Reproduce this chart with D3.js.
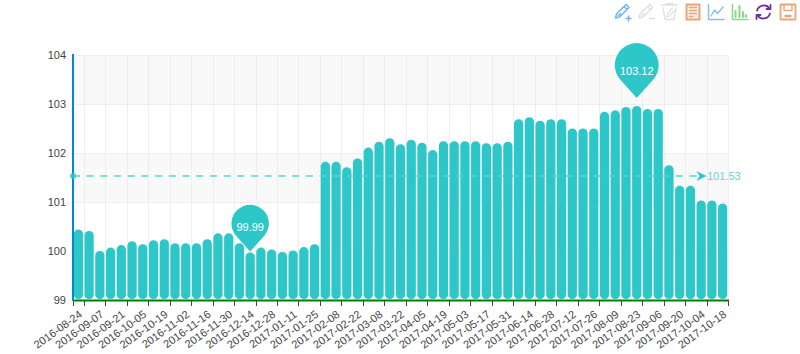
<!DOCTYPE html>
<html><head><meta charset="utf-8">
<style>html,body{margin:0;padding:0;background:#fff}svg{display:block}text{font-family:"Liberation Sans",Arial,sans-serif}</style>
<script src="https://cdn.jsdelivr.net/npm/d3@7"></script></head>
<body><svg id="c" width="800" height="354"></svg>
<script>
const dates=["2016-08-24","2016-08-31","2016-09-07","2016-09-14","2016-09-21","2016-09-28","2016-10-05","2016-10-12","2016-10-19","2016-10-26","2016-11-02","2016-11-09","2016-11-16","2016-11-23","2016-11-30","2016-12-07","2016-12-14","2016-12-21","2016-12-28","2017-01-04","2017-01-11","2017-01-18","2017-01-25","2017-02-01","2017-02-08","2017-02-15","2017-02-22","2017-03-01","2017-03-08","2017-03-15","2017-03-22","2017-03-29","2017-04-05","2017-04-12","2017-04-19","2017-04-26","2017-05-03","2017-05-10","2017-05-17","2017-05-24","2017-05-31","2017-06-07","2017-06-14","2017-06-21","2017-06-28","2017-07-05","2017-07-12","2017-07-19","2017-07-26","2017-08-02","2017-08-09","2017-08-16","2017-08-23","2017-08-30","2017-09-06","2017-09-13","2017-09-20","2017-09-27","2017-10-04","2017-10-11","2017-10-18"];
const values=[100.44,100.41,100.00,100.07,100.12,100.20,100.14,100.22,100.24,100.16,100.16,100.16,100.24,100.36,100.36,100.16,99.97,100.07,100.03,99.98,100.01,100.08,100.14,101.82,101.82,101.71,101.89,102.11,102.23,102.30,102.18,102.27,102.21,102.06,102.24,102.24,102.24,102.24,102.20,102.20,102.23,102.69,102.73,102.66,102.69,102.69,102.50,102.50,102.50,102.84,102.87,102.94,102.96,102.90,102.90,101.75,101.33,101.33,101.03,101.03,100.97];
const yTicks=[99,100,101,102,103,104];
const pins=[{i:52,v:103.12,r:22,d:33,dy:9.5},{i:16,v:99.99,r:18.7,d:28,dy:8}];
const average=101.53;
const teal="#2ec7c9";

const svg=d3.select("#c");
const x=d3.scaleBand().domain(d3.range(dates.length)).range([73,728]).paddingInner(0.14).paddingOuter(0.07);
const y=d3.scaleLinear().domain([99,104]).range([300,55]);
const edge=i=>73+i*(655/dates.length);
const tickIdx=[0];for(let i=1;i<=dates.length;i+=2)tickIdx.push(i);

// split areas
const g=svg.append("g");
[[104,103,"#f9f9f9"],[103,102,"#fff"],[102,101,"#f9f9f9"],[101,100,"#fff"],[100,99,"#f9f9f9"]].forEach(d=>g.append("rect").attr("x",73).attr("width",655).attr("y",y(d[0])).attr("height",y(d[1])-y(d[0])).attr("fill",d[2]));
yTicks.slice(1).forEach(t=>g.append("line").attr("x1",73).attr("x2",728).attr("y1",Math.round(y(t))+.5).attr("y2",Math.round(y(t))+.5).attr("stroke","#eee"));
tickIdx.slice(1).forEach(i=>g.append("line").attr("x1",Math.round(edge(i))+.5).attr("x2",Math.round(edge(i))+.5).attr("y1",55).attr("y2",300).attr("stroke","#eee"));
// bars
svg.append("g").selectAll("rect").data(values).join("rect")
 .attr("x",(d,i)=>x(i)).attr("width",x.bandwidth())
 .attr("y",d=>y(d)).attr("height",d=>y(99)-1-y(d))
 .attr("rx",4.5).attr("ry",4.5).attr("fill",teal);
// axes
const ax=svg.append("g");
ax.append("line").attr("x1",73).attr("x2",729).attr("y1",300.5).attr("y2",300.5).attr("stroke","#008000").attr("stroke-width",2);
ax.append("line").attr("x1",73).attr("x2",73).attr("y1",54).attr("y2",301).attr("stroke","#008acd").attr("stroke-width",2);
tickIdx.forEach(i=>ax.append("line").attr("x1",Math.round(edge(i))+.5).attr("x2",Math.round(edge(i))+.5).attr("y1",301).attr("y2",306).attr("stroke","#444"));
yTicks.forEach(t=>ax.append("text").attr("x",66).attr("y",y(t)+4).attr("text-anchor","end").attr("font-size",11).attr("fill","#444").text(t));
dates.forEach((d,i)=>{if(i%2)return;
 const cx=x(i)+x.bandwidth()/2;
 ax.append("text").attr("transform",`translate(${cx+4.5},316) rotate(-36)`).attr("text-anchor","end").attr("font-size",11).attr("fill","#444").text(d);
});
// average line
const ay=y(average);
const m=svg.append("g");
m.append("line").attr("x1",73).attr("x2",698).attr("y1",ay).attr("y2",ay).attr("stroke","#55d3d5").attr("stroke-width",1.5).attr("stroke-dasharray","7,6.7");
m.append("circle").attr("cx",73).attr("cy",ay).attr("r",3).attr("fill",teal).attr("fill-opacity",.85);
m.append("path").attr("d",`M696.5,${ay-5}L706.5,${ay}L696.5,${ay+5}L699.5,${ay}Z`).attr("fill",teal);
m.append("text").attr("x",707).attr("y",ay+4).attr("font-size",11).attr("fill","#5ed6d7").text(average);
// pins
pins.forEach(p=>{
 const px=x(p.i)+x.bandwidth()/2, ty=y(p.v), cy=ty-p.d;
 const a=Math.acos(p.r/p.d), tx=p.r*Math.sin(a), tyy=cy+p.r*Math.cos(a);
 m.append("path").attr("d",`M${px},${ty}L${px-tx},${tyy}A${p.r},${p.r} 0 1 1 ${px+tx},${tyy}Z`).attr("fill",teal);
 m.append("text").attr("x",px).attr("y",cy+p.dy).attr("text-anchor","middle").attr("font-size",11).attr("fill","#fff").text(p.v);
});
// toolbox icons
const tb=svg.append("g").attr("fill","none").attr("stroke-linecap","round").attr("stroke-linejoin","round");
function icon(cx,col,parts){const n=tb.append("g").attr("transform",`translate(${cx},12)`).attr("stroke",col).attr("stroke-width",1.3);parts(n);return n;}
const P=(n,d,w,f)=>n.append("path").attr("d",d).attr("stroke-width",w||1.3).attr("fill",f||"none");
const pen="M4,-7.5L7,-4.5L-2.5,5L-6.5,6L-5.5,2ZM2,-5.5L5,-2.5M-3.5,3.5L-1.5,1.5";
icon(622,"#6fb4f5",n=>{P(n,pen,1.5);P(n,"M4,6.5H9M6.5,4V9",1.6);});
icon(645.5,"#dedede",n=>{P(n,pen,1.3);P(n,"M4,6.5H9",1.3);});
icon(669.5,"#e0e0e0",n=>{P(n,"M-8,-7H8M-3,-7V-8.5H3V-7",1.3);P(n,"M-6.5,-4L-4.5,7.5H4.5L6.5,-4",1.3);P(n,"M3,-4L-2,2L-3,5L0,4L5,-1.5",1.2);});
icon(693,"#e9a67c",n=>{P(n,"M-6.5,-7.5H6.5V7.5H-6.5Z",2,"#fbeee4");P(n,"M-3.5,-4.5H3.5M-3.5,-1.5H3.5M-3.5,1.5H3.5M-3.5,4.5H0",1.3);});
icon(716,"#86c0fb",n=>{P(n,"M-7.5,-7.5V7.5H8",1.5);P(n,"M-5,4L-1.5,-2L1.5,1.5L7,-5",1.4);});
icon(740,"#82dd82",n=>{P(n,"M-7.5,-7.5V7.5H8",1.5);P(n,"M-4.5,5V-1M-0.5,5V-6M3,5V0M6,5V3",2);});
icon(763.5,"#6b30a8",n=>{P(n,"M6,-3.5A7,7 0 0 0 -6.5,-1.5",1.8);P(n,"M-6,3.5A7,7 0 0 0 6.5,1.5",1.8);P(n,"M7,-7V-3H3",1.8);P(n,"M-7,7V3H-3",1.8);});
icon(788,"#e9a67c",n=>{P(n,"M-7.5,-7.5H7.5V7.5H-7.5Z",1.8);P(n,"M-4,-7.5V-1.5H4V-7.5",1.4);P(n,"M-2.5,4H2.5",2.4);});
</script></body></html>
